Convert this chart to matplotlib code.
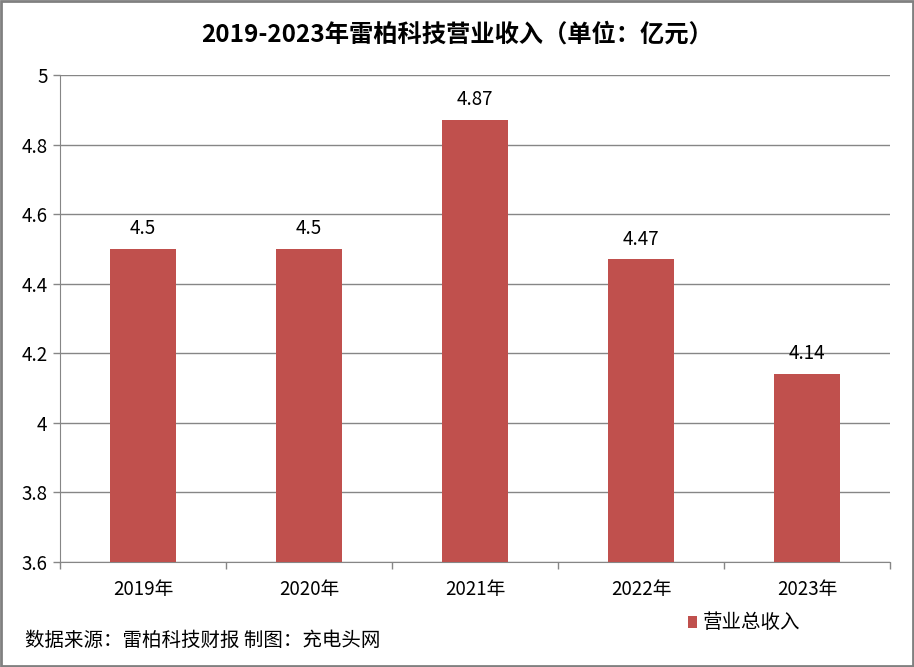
import matplotlib
matplotlib.use("Agg")
import matplotlib.pyplot as plt
from matplotlib.patches import Rectangle

plt.rcParams['font.family'] = ['Noto Sans CJK SC', 'DejaVu Sans']

categories = ["2019年", "2020年", "2021年", "2022年", "2023年"]
values = [4.5, 4.5, 4.87, 4.47, 4.14]
value_labels = ["4.5", "4.5", "4.87", "4.47", "4.14"]
yticks = [3.6, 3.8, 4.0, 4.2, 4.4, 4.6, 4.8, 5.0]
ytick_labels = ["3.6", "3.8", "4", "4.2", "4.4", "4.6", "4.8", "5"]
title = "2019-2023年雷柏科技营业收入（单位：亿元）"
series_name = "营业总收入"
source = "数据来源：雷柏科技财报 制图：充电头网"

bar_color = "#C0504D"
grid_color = "#868686"

fig = plt.figure(figsize=(9.14, 6.67), dpi=100)
fig.patch.set_facecolor("white")
fig.add_artist(Rectangle((0.0015, 0.002), 0.997, 0.996, transform=fig.transFigure,
                         fill=False, edgecolor="#808080", linewidth=2))

ax = fig.add_axes([60/914, 1-562/667, 830/914, 487/667])
x = list(range(len(categories)))
ax.bar(x, values, width=0.4, color=bar_color, zorder=3)
ax.set_xlim(-0.5, len(categories)-0.5)
ax.set_ylim(3.6, 5.0)
ax.set_yticks(yticks)
ax.set_yticklabels(ytick_labels, fontsize=13.5)
ax.set_xticks(x)
ax.set_xticklabels(categories, fontsize=13.5)
ax.tick_params(axis='x', length=0, pad=12)
ax.set_xticks([i - 0.5 for i in range(len(categories)+1)], minor=True)
ax.tick_params(axis='x', which='minor', length=5, color=grid_color, width=1)
ax.tick_params(axis='y', length=5, color=grid_color, width=1, pad=4)
ax.grid(axis='y', color=grid_color, linewidth=1, zorder=0)
for s in ['top', 'right']:
    ax.spines[s].set_visible(False)
for s in ['left', 'bottom']:
    ax.spines[s].set_color(grid_color)

for xi, v, lab in zip(x, values, value_labels):
    ax.annotate(lab, (xi, v), xytext=(0, 7), textcoords='offset points',
                ha='center', va='bottom', fontsize=13.5)

fig.text(0.5, 1-35/667, title, ha='center', va='center', fontsize=17.5, fontweight='bold')

fig.add_artist(Rectangle((688/914, 1-628/667), 9/914, 12/667, transform=fig.transFigure,
                         facecolor=bar_color, edgecolor='none'))
fig.text(703/914, 1-622/667, series_name, ha='left', va='center', fontsize=14)
fig.text(25/914, 1-640/667, source, ha='left', va='center', fontsize=14)

fig.savefig("out.png", dpi=100)
